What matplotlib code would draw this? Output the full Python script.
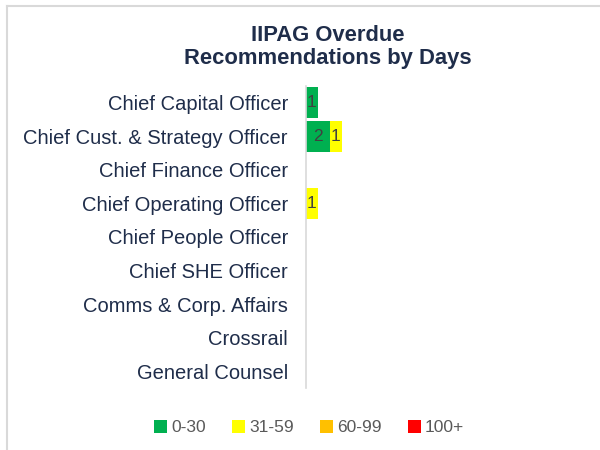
import matplotlib.pyplot as plt
import numpy as np

categories = ['Chief Capital Officer', 'Chief Cust. & Strategy Officer',
              'Chief Finance Officer', 'Chief Operating Officer',
              'Chief People Officer', 'Chief SHE Officer',
              'Comms & Corp. Affairs', 'Crossrail', 'General Counsel']
days_0_30 = [1, 2, 0, 0, 0, 0, 0, 0, 0]
days_31_59 = [0, 1, 0, 1, 0, 0, 0, 0, 0]
days_60_99 = [0, 0, 0, 0, 0, 0, 0, 0, 0]
days_100 = [0, 0, 0, 0, 0, 0, 0, 0, 0]

series = [('0-30', days_0_30, '#00B050'),
          ('31-59', days_31_59, '#FFFF00'),
          ('60-99', days_60_99, '#FFC000'),
          ('100+', days_100, '#FF0000')]

plt.rcParams['font.family'] = ['Liberation Sans', 'DejaVu Sans']

fig = plt.figure(figsize=(6, 4.5), dpi=100)
ax = fig.add_axes([0.51, 0.138, 0.473, 0.671])

y = np.arange(len(categories))
left = np.zeros(len(categories))
for name, vals, color in series:
    vals = np.array(vals, dtype=float)
    bars = ax.barh(y, vals, left=left, height=0.92, color=color, label=name)
    for b, v in zip(bars, vals):
        if v > 0:
            ax.text(b.get_x() + b.get_width() / 2, b.get_y() + b.get_height() / 2,
                    f'{int(v)}', ha='center', va='center', fontsize=12.5, color='#404040')
    left += vals

ax.set_xlim(0, 23.7)
ax.set_ylim(len(categories) - 0.5, -0.5)
ax.set_yticks(y)
ax.set_yticklabels(categories, fontsize=14.5, color='#1F2D4A')
ax.tick_params(axis='y', length=0, pad=13)
ax.set_xticks([])
for s in ['top', 'right', 'bottom']:
    ax.spines[s].set_visible(False)
ax.spines['left'].set_color('#D9D9D9')
ax.spines['left'].set_linewidth(1.2)

fig.text(0.547, 0.895, 'IIPAG Overdue\nRecommendations by Days', ha='center', va='center',
         fontsize=15.8, fontweight='bold', color='#1F2D4A', linespacing=1.15)

fig.legend(loc='center', bbox_to_anchor=(0.515, 0.05), ncol=4, frameon=False,
           fontsize=12.5, labelcolor='#595959', handlelength=0.75, handleheight=0.75,
           handletextpad=0.25, columnspacing=1.5)

# light frame on the top and left edges
fig.add_artist(plt.Line2D([0.011, 0.011], [0, 0.987], color='#D9D9D9', lw=1.5))
fig.add_artist(plt.Line2D([0.011, 1], [0.987, 0.987], color='#D9D9D9', lw=1.5))

fig.savefig('out.png', dpi=100)
